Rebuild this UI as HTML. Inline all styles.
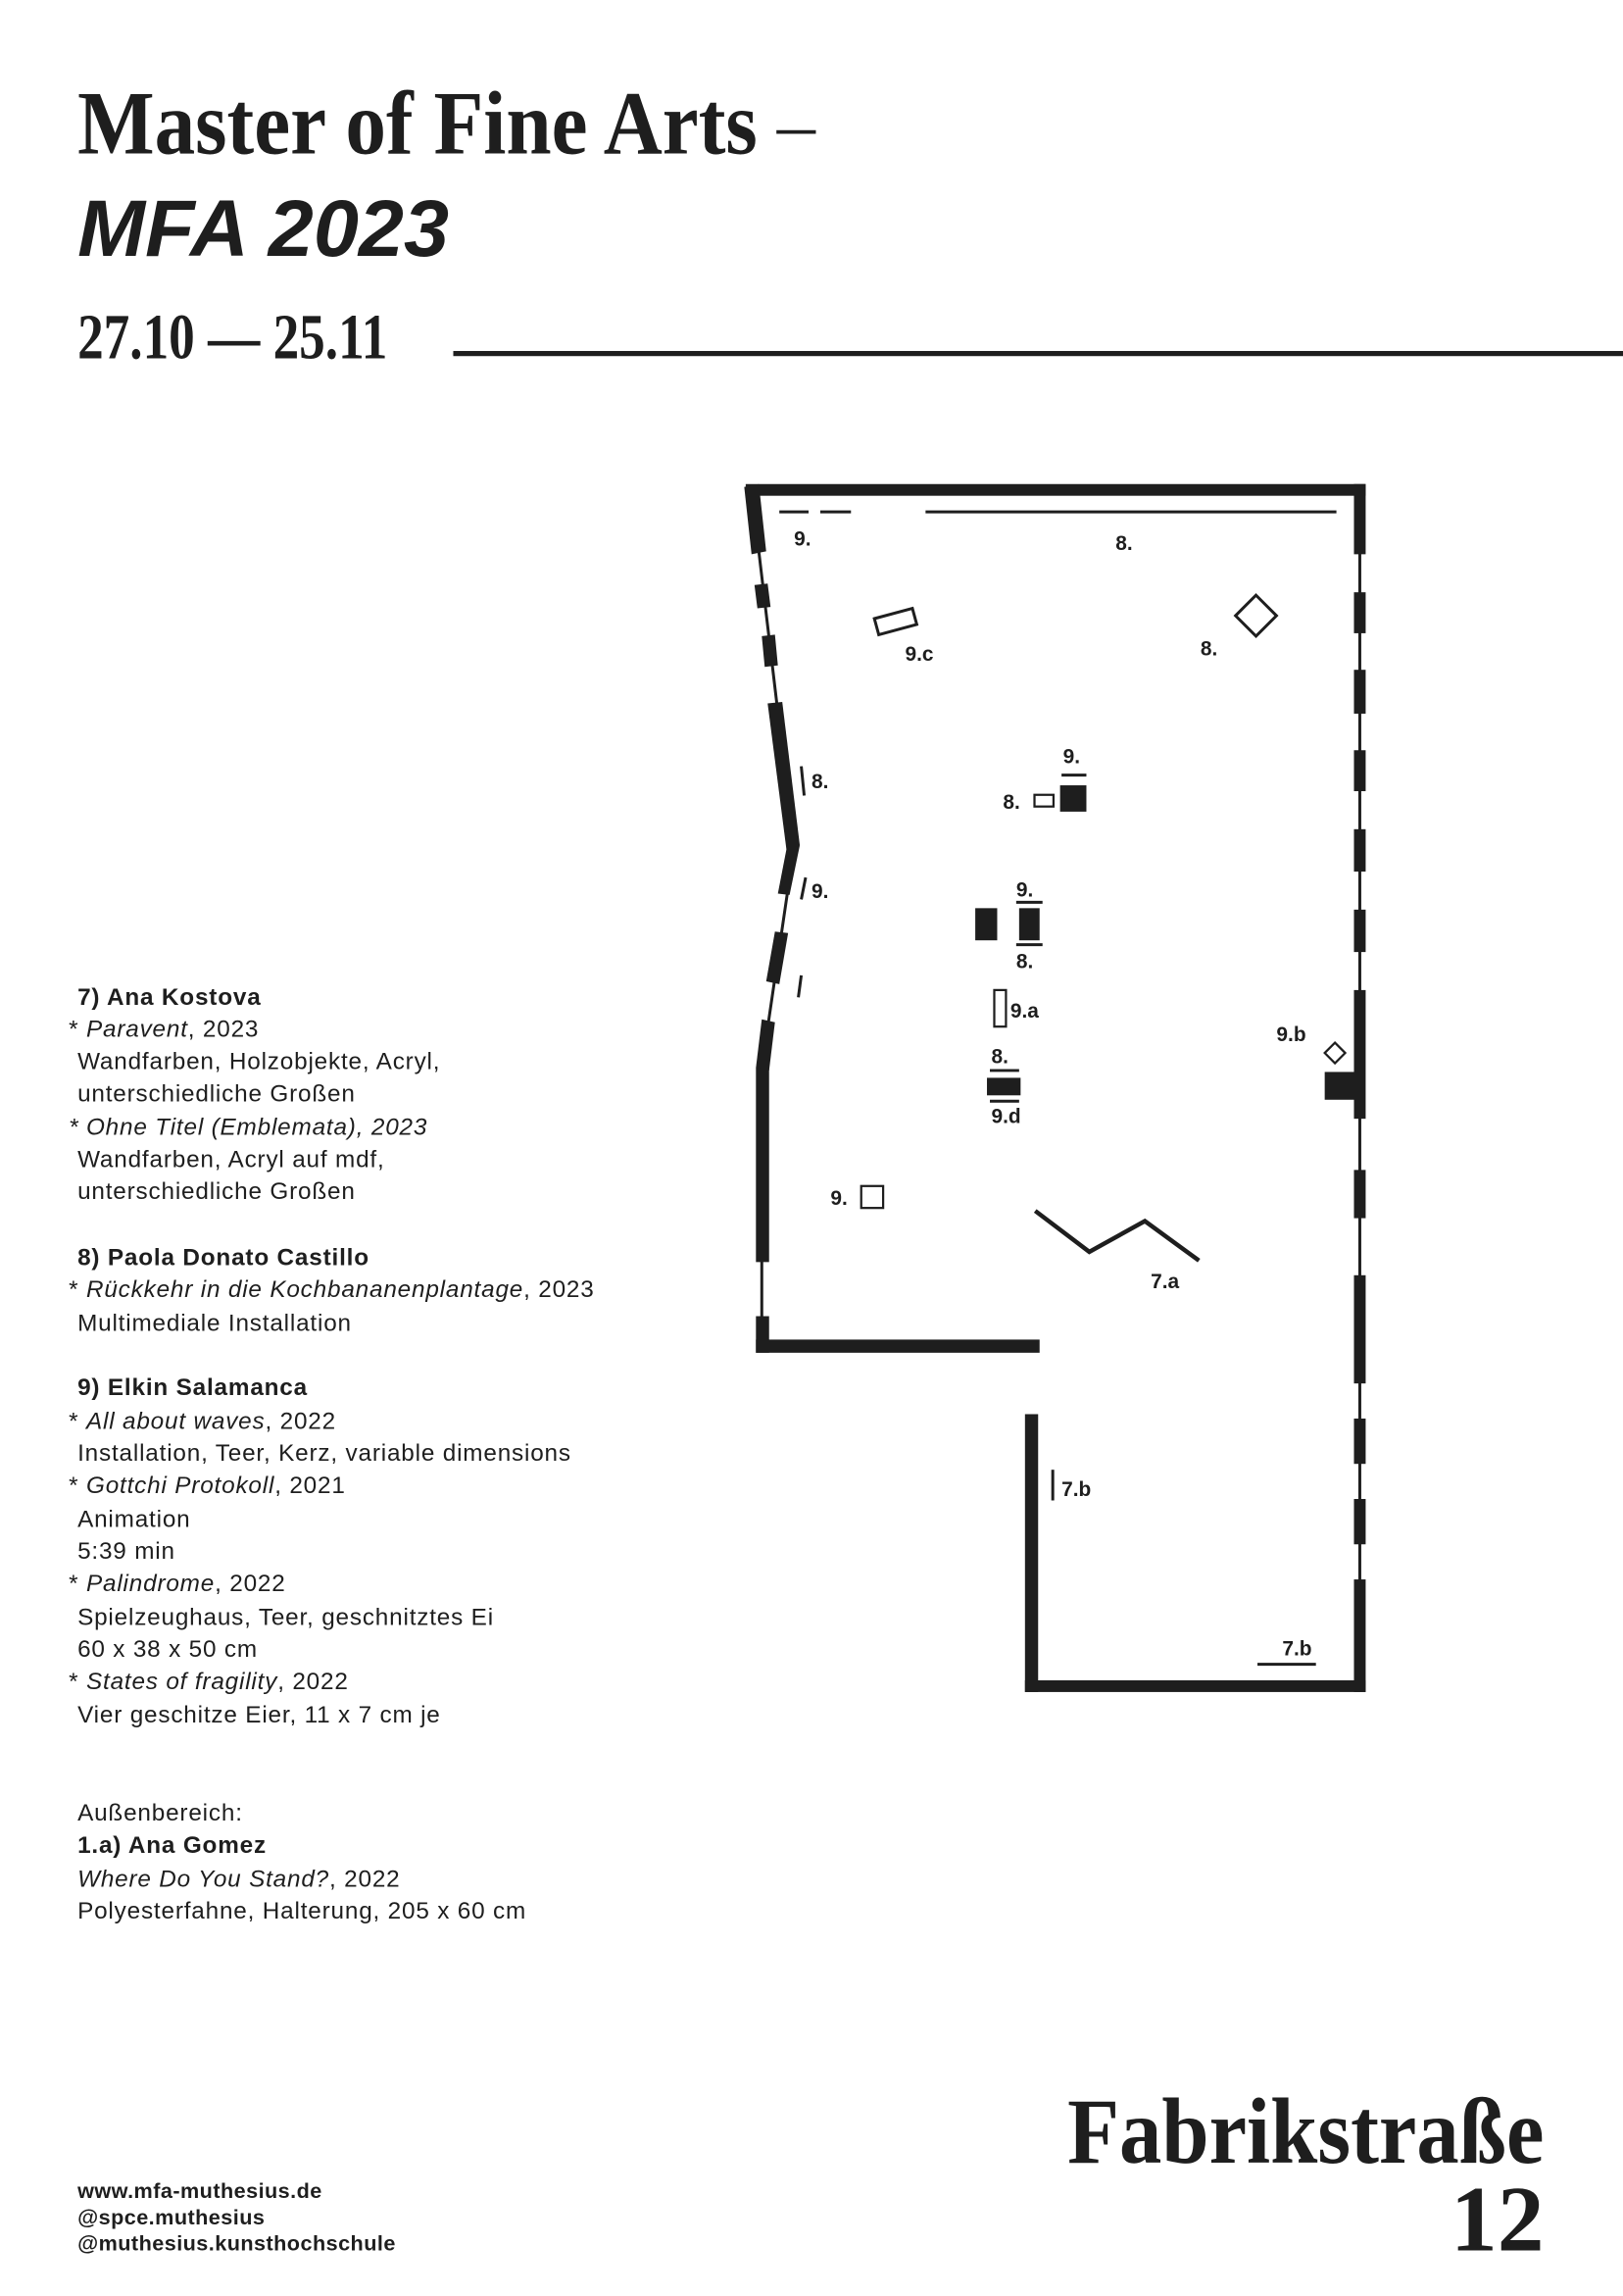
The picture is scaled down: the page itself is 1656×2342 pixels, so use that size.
<!DOCTYPE html>
<html><head><meta charset="utf-8"><style>
html,body{margin:0;padding:0;background:#fff}
svg{display:block}
.s{font-family:"Liberation Sans",sans-serif;fill:#1e1e1e}
.t{font-size:16.3px;letter-spacing:0.55px}
.b{font-weight:bold}
.i{font-style:italic}
.l{font-family:"Liberation Sans",sans-serif;font-weight:bold;font-size:14px;fill:#1e1e1e}
.d{font-family:"Liberation Serif",serif;font-weight:bold;fill:#1e1e1e}
</style></head><body>
<svg width="1656" height="2342" viewBox="0 0 1110 1570" preserveAspectRatio="none" xmlns="http://www.w3.org/2000/svg">
<text class="d" x="53" y="105" font-size="62" textLength="465" lengthAdjust="spacingAndGlyphs">Master of Fine Arts</text>
<rect x="531" y="89" width="27" height="2.5" fill="#1e1e1e"/>
<text class="s b i" x="53" y="175" font-size="55" textLength="254" lengthAdjust="spacingAndGlyphs">MFA 2023</text>
<text class="d" x="53" y="245" font-size="44" textLength="212" lengthAdjust="spacingAndGlyphs">27.10 — 25.11</text>
<rect x="310" y="240" width="800" height="3.5" fill="#1e1e1e"/>

<g class="s t">
<text x="53" y="687" class="b">7) Ana Kostova</text>
<text x="47" y="709">* <tspan class="i">Paravent</tspan>, 2023</text>
<text x="53" y="731">Wandfarben, Holzobjekte, Acryl,</text>
<text x="53" y="753">unterschiedliche Großen</text>
<text x="47" y="776" class="i">* Ohne Titel (Emblemata), 2023</text>
<text x="53" y="798">Wandfarben, Acryl auf mdf,</text>
<text x="53" y="820">unterschiedliche Großen</text>
<text x="53" y="865" class="b">8) Paola Donato Castillo</text>
<text x="47" y="887">* <tspan class="i">Rückkehr in die  Kochbananenplantage</tspan>, 2023</text>
<text x="53" y="910">Multimediale Installation</text>
<text x="53" y="954" class="b">9) Elkin Salamanca</text>
<text x="47" y="977">* <tspan class="i">All about waves</tspan>, 2022</text>
<text x="53" y="999">Installation, Teer, Kerz, variable dimensions</text>
<text x="47" y="1021">* <tspan class="i">Gottchi Protokoll</tspan>, 2021</text>
<text x="53" y="1044">Animation</text>
<text x="53" y="1066">5:39 min</text>
<text x="47" y="1088">* <tspan class="i">Palindrome</tspan>, 2022</text>
<text x="53" y="1111">Spielzeughaus, Teer, geschnitztes Ei</text>
<text x="53" y="1133">60 x 38 x 50 cm</text>
<text x="47" y="1155">* <tspan class="i">States of fragility</tspan>, 2022</text>
<text x="53" y="1178">Vier geschitze Eier, 11 x 7 cm je</text>
<text x="53" y="1245">Außenbereich:</text>
<text x="53" y="1267" class="b">1.a) Ana Gomez</text>
<text x="53" y="1290"><tspan class="i">Where Do You Stand?</tspan>, 2022</text>
<text x="53" y="1312">Polyesterfahne, Halterung, 205 x 60 cm</text>
</g>

<g class="s b" font-size="14.5" letter-spacing="0.3">
<text x="53" y="1503">www.mfa-muthesius.de</text>
<text x="53" y="1521">@spce.muthesius</text>
<text x="53" y="1539">@muthesius.kunsthochschule</text>
</g>
<text class="d" x="1056" y="1479" font-size="64" text-anchor="end" textLength="326" lengthAdjust="spacingAndGlyphs">Fabrikstraße</text>
<text class="d" x="1056" y="1539" font-size="64" text-anchor="end">12</text>

<!-- floor plan -->
<g fill="#1e1e1e" stroke="none">
<rect x="510" y="331" width="424" height="8"/>
<rect x="926" y="331" width="8" height="48"/>
<rect x="926" y="405" width="8" height="28"/>
<rect x="926" y="458" width="8" height="30"/>
<rect x="926" y="513" width="8" height="28"/>
<rect x="926" y="567" width="8" height="29"/>
<rect x="926" y="622" width="8" height="29"/>
<rect x="926" y="677" width="8" height="88"/>
<rect x="906" y="733" width="22" height="19"/>
<rect x="926" y="800" width="8" height="33"/>
<rect x="926" y="872" width="8" height="74"/>
<rect x="926" y="970" width="8" height="31"/>
<rect x="926" y="1025" width="8" height="31"/>
<rect x="926" y="1080" width="8" height="77"/>
<rect x="701" y="1149" width="233" height="8"/>
<rect x="701" y="967" width="9" height="190"/>
<rect x="517" y="916" width="194" height="9"/>
<rect x="517" y="900" width="9" height="25"/>
<rect x="517" y="730" width="9" height="133"/>
<polygon points="509,333 519,331 524,377 514,379"/>
<polygon points="516,400 525,399 527,415 518,416"/>
<polygon points="521,435 530,434 532,455 523,456"/>
<polygon points="525,481 535,480 547,578 538,582"/>
<polygon points="538,580 547,578 540,612 532,611"/>
<polygon points="530,637 539,638 533,673 524,671"/>
<polygon points="521,697 530,699 526,732 517,730"/>
</g>
<g stroke="#1e1e1e" fill="none" stroke-width="2">
<line x1="930" y1="335" x2="930" y2="1150"/>
<polyline points="514,335 543,580 521,730 521,920"/>
</g>
<g stroke="#1e1e1e" fill="none" stroke-width="2">
<line x1="533" y1="350" x2="553" y2="350"/>
<line x1="561" y1="350" x2="582" y2="350"/>
<line x1="633" y1="350" x2="914" y2="350"/>
<polygon points="598,423 624,416 627,427 601,434"/>
<polygon points="859,407 873,421 859,435 845,421"/>
<line x1="548" y1="524" x2="550" y2="544"/>
<line x1="726" y1="530" x2="743" y2="530"/>
<rect x="707.5" y="543.5" width="13" height="8" stroke-width="1.5"/>
<line x1="551" y1="600" x2="548" y2="615"/>
<line x1="695" y1="617" x2="713" y2="617"/>
<line x1="695" y1="646" x2="713" y2="646"/>
<line x1="548" y1="667" x2="546" y2="682"/>
<rect x="680" y="677" width="8" height="25" stroke-width="1.5"/>
<line x1="677" y1="732" x2="697" y2="732"/>
<line x1="677" y1="753" x2="697" y2="753"/>
<polygon points="913,713 920,720 913,727 906,720" stroke-width="1.5"/>
<rect x="589" y="811" width="15" height="15" stroke-width="1.5"/>
<polyline points="708,828 745,856 783,835 820,862" stroke-width="3"/>
<line x1="720" y1="1005" x2="720" y2="1026"/>
<line x1="860" y1="1138" x2="900" y2="1138"/>
</g>
<g fill="#1e1e1e">
<rect x="725" y="537" width="18" height="18"/>
<rect x="667" y="621" width="15" height="22"/>
<rect x="697" y="621" width="14" height="22"/>
<rect x="675" y="737" width="23" height="12"/>
</g>
<g class="l">
<text x="543" y="373">9.</text>
<text x="763" y="376">8.</text>
<text x="619" y="452">9.c</text>
<text x="821" y="448">8.</text>
<text x="555" y="539">8.</text>
<text x="727" y="522">9.</text>
<text x="686" y="553">8.</text>
<text x="555" y="614">9.</text>
<text x="695" y="613">9.</text>
<text x="695" y="662">8.</text>
<text x="691" y="696">9.a</text>
<text x="678" y="727">8.</text>
<text x="678" y="768">9.d</text>
<text x="873" y="712">9.b</text>
<text x="568" y="824">9.</text>
<text x="787" y="881">7.a</text>
<text x="726" y="1023">7.b</text>
<text x="877" y="1132">7.b</text>
</g>
</svg>
</body></html>
